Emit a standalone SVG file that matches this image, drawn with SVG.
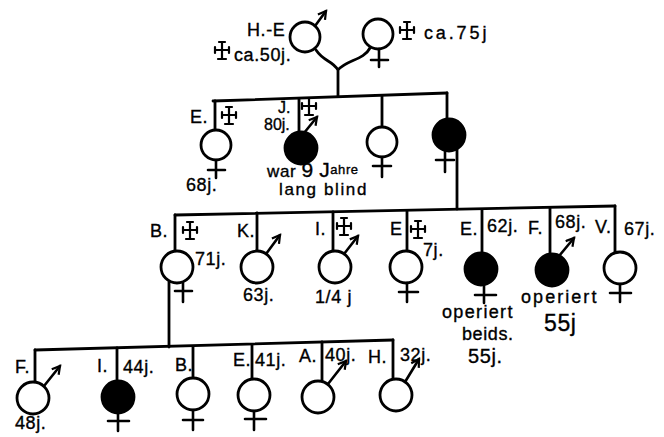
<svg xmlns="http://www.w3.org/2000/svg" xmlns:xlink="http://www.w3.org/1999/xlink" width="664" height="437" viewBox="0 0 664 437">
<style>
.ln{stroke:#000;stroke-width:2.8;fill:none;stroke-linecap:round;stroke-linejoin:round}
.o{fill:#fff;stroke:#000;stroke-width:2.8}
.f{fill:#000;stroke:#000;stroke-width:2.8}
.sx{stroke:#000;stroke-width:2.6;fill:none;stroke-linecap:round}
.t{font-family:"Liberation Sans",Arial,sans-serif;font-size:18px;letter-spacing:0.6px;fill:#000;stroke:#000;stroke-width:0.35}
.t.m{font-size:16px;letter-spacing:0}
.b{font-size:21px}
.s{font-size:13px}
</style>
<defs>
<marker id="ma" viewBox="0 0 10 10" refX="8" refY="5" markerWidth="11" markerHeight="11" markerUnits="userSpaceOnUse" orient="auto">
<path d="M1,1 L8,5 L1,9" fill="none" stroke="#000" stroke-width="2"/>
</marker>
<g id="d" class="sx" style="stroke-width:2.2">
<path d="M-3,-9 H3 M0,-9 V8 M-7,-1 H7 M-7,-4 V2 M7,-4 V2 M-4,8 H4"/>
</g>
</defs>
<rect width="664" height="437" fill="#fff"/>

<g id="connectors" class="ln">
<path d="M316,50 C324,62 332,60 338,70 M370,48 C364,60 346,60 338,70 V96"/>
<path d="M213,101 L447,93"/>
<path d="M215,101 V131 M299,99 V132 M382,96 V127 M447,93 V119"/>
<path d="M457,148 V209"/>
<path d="M175,215 L615,206"/>
<path d="M175,215 V252 M257,213 V251 M333,212 V251 M407,211 V252 M482,210 V253 M550,208 V254 M615,206 V253"/>
<path d="M169,282 V347"/>
<path d="M35,350 L393,340"/>
<path d="M35,350 V382 M117,348 V382 M193,347 V378 M252,345 V379 M322,342 V381 M393,340 V379"/>
</g>

<g id="g1-father">
<circle class="o" cx="305" cy="37" r="15"/>
<path class="sx" d="M315,26 L326,11" marker-end="url(#ma)"/>
<text class="t" x="247" y="36">H.-E</text>
<use xlink:href="#d" x="222" y="51"/>
<text class="t" x="234" y="61">ca.50j.</text>
</g>
<g id="g1-mother">
<circle class="o" cx="378" cy="34" r="15"/>
<path class="sx" d="M379,49 V67 M371,60 H388"/>
<use xlink:href="#d" x="407" y="31"/>
<text class="t" x="424" y="39" textLength="63">ca.75j</text>
</g>

<g id="g2-E">
<circle class="o" cx="216" cy="145" r="15"/>
<path class="sx" d="M216,160 V178 M208,170 H225"/>
<text class="t" x="190" y="123">E.</text>
<use xlink:href="#d" x="229" y="116"/>
<text class="t" x="186" y="191">68j.</text>
</g>
<g id="g2-J">
<circle class="f" cx="301" cy="148" r="16"/>
<path class="sx" d="M304,133 L317,117" marker-end="url(#ma)"/>
<text class="t m" x="278" y="113">J.</text>
<text class="t m" x="264" y="130">80j.</text>
<use xlink:href="#d" x="309" y="107"/>
<text class="t" x="267" y="177" style="font-size:17px">war <tspan class="b">9</tspan> <tspan class="b">J</tspan><tspan class="s" dy="-3">ahre</tspan></text>
<text class="t" x="279" y="195" style="font-size:17px" textLength="88">lang blind</text>
</g>
<g id="g2-F3">
<circle class="o" cx="382" cy="142" r="15"/>
<path class="sx" d="M382,157 V177 M373,166 H391"/>
</g>
<g id="g2-F4">
<circle class="f" cx="449" cy="135" r="16"/>
<path class="sx" d="M445,150 V172 M436,160 H454"/>
</g>

<g id="g3-B">
<circle class="o" cx="177" cy="267" r="16"/>
<path class="sx" d="M183,283 V302 M175,291 H192"/>
<text class="t" x="150" y="237">B.</text>
<use xlink:href="#d" x="190" y="231"/>
<text class="t" x="195" y="265">71j.</text>
</g>
<g id="g3-K">
<circle class="o" cx="257" cy="267" r="16"/>
<path class="sx" d="M266,254 L280,235" marker-end="url(#ma)"/>
<text class="t" x="237" y="237">K.</text>
<text class="t" x="243" y="301">63j.</text>
</g>
<g id="g3-I">
<circle class="o" cx="335" cy="267" r="16"/>
<path class="sx" d="M344,254 L358,236" marker-end="url(#ma)"/>
<text class="t" x="315" y="235">I.</text>
<use xlink:href="#d" x="344" y="227"/>
<text class="t" x="315" y="303">1/4 j</text>
</g>
<g id="g3-E">
<circle class="o" cx="406" cy="267" r="16"/>
<path class="sx" d="M407,283 V302 M399,292 H418"/>
<text class="t" x="390" y="235">E</text>
<use xlink:href="#d" x="418" y="230"/>
<text class="t" x="423" y="256">7j.</text>
</g>
<g id="g3-E2">
<circle class="f" cx="481" cy="269" r="16"/>
<path class="sx" d="M484,285 V303 M475,295 H496"/>
<text class="t" x="460" y="235">E.</text>
<text class="t" x="487" y="232">62j.</text>
<text class="t" x="442" y="318" textLength="71">operiert</text>
<text class="t" x="462" y="340">beids.</text>
<text class="t" x="468" y="363" style="font-size:20px">55j.</text>
</g>
<g id="g3-F">
<circle class="f" cx="552" cy="270" r="16"/>
<path class="sx" d="M559,256 L574,238" marker-end="url(#ma)"/>
<text class="t" x="528" y="234">F.</text>
<text class="t" x="555" y="228">68j.</text>
<text class="t" x="521" y="303" textLength="76">operiert</text>
<text class="t" x="544" y="331" style="font-size:23px">55j</text>
</g>
<g id="g3-V">
<circle class="o" cx="620" cy="268" r="16"/>
<path class="sx" d="M620,284 V302 M610,293 H631"/>
<text class="t" x="595" y="233">V.</text>
<text class="t" x="624" y="235">67j.</text>
</g>

<g id="g4-F">
<circle class="o" cx="33" cy="398" r="16"/>
<path class="sx" d="M44,386 L60,366" marker-end="url(#ma)"/>
<text class="t" x="15" y="373">F.</text>
<text class="t" x="15" y="429">48j.</text>
</g>
<g id="g4-I">
<circle class="f" cx="118" cy="397" r="16"/>
<path class="sx" d="M118,413 V431 M108,421 H129"/>
<text class="t" x="97" y="372">I.</text>
<text class="t" x="123" y="373">44j.</text>
</g>
<g id="g4-B">
<circle class="o" cx="193" cy="394" r="16"/>
<path class="sx" d="M193,410 V430 M183,420 H203"/>
<text class="t" x="175" y="371">B.</text>
</g>
<g id="g4-E">
<circle class="o" cx="254" cy="395" r="16"/>
<path class="sx" d="M254,411 V430 M245,419 H266"/>
<text class="t" x="233" y="366">E.</text>
<text class="t" x="255" y="366">41j.</text>
</g>
<g id="g4-A">
<circle class="o" cx="318" cy="397" r="16"/>
<path class="sx" d="M328,384 L346,361" marker-end="url(#ma)"/>
<text class="t" x="299" y="362">A.</text>
<text class="t" x="325" y="361">40j.</text>
</g>
<g id="g4-H">
<circle class="o" cx="396" cy="395" r="16"/>
<path class="sx" d="M405,382 L419,359" marker-end="url(#ma)"/>
<text class="t" x="368" y="363">H.</text>
<text class="t" x="400" y="361">32j.</text>
</g>
</svg>
